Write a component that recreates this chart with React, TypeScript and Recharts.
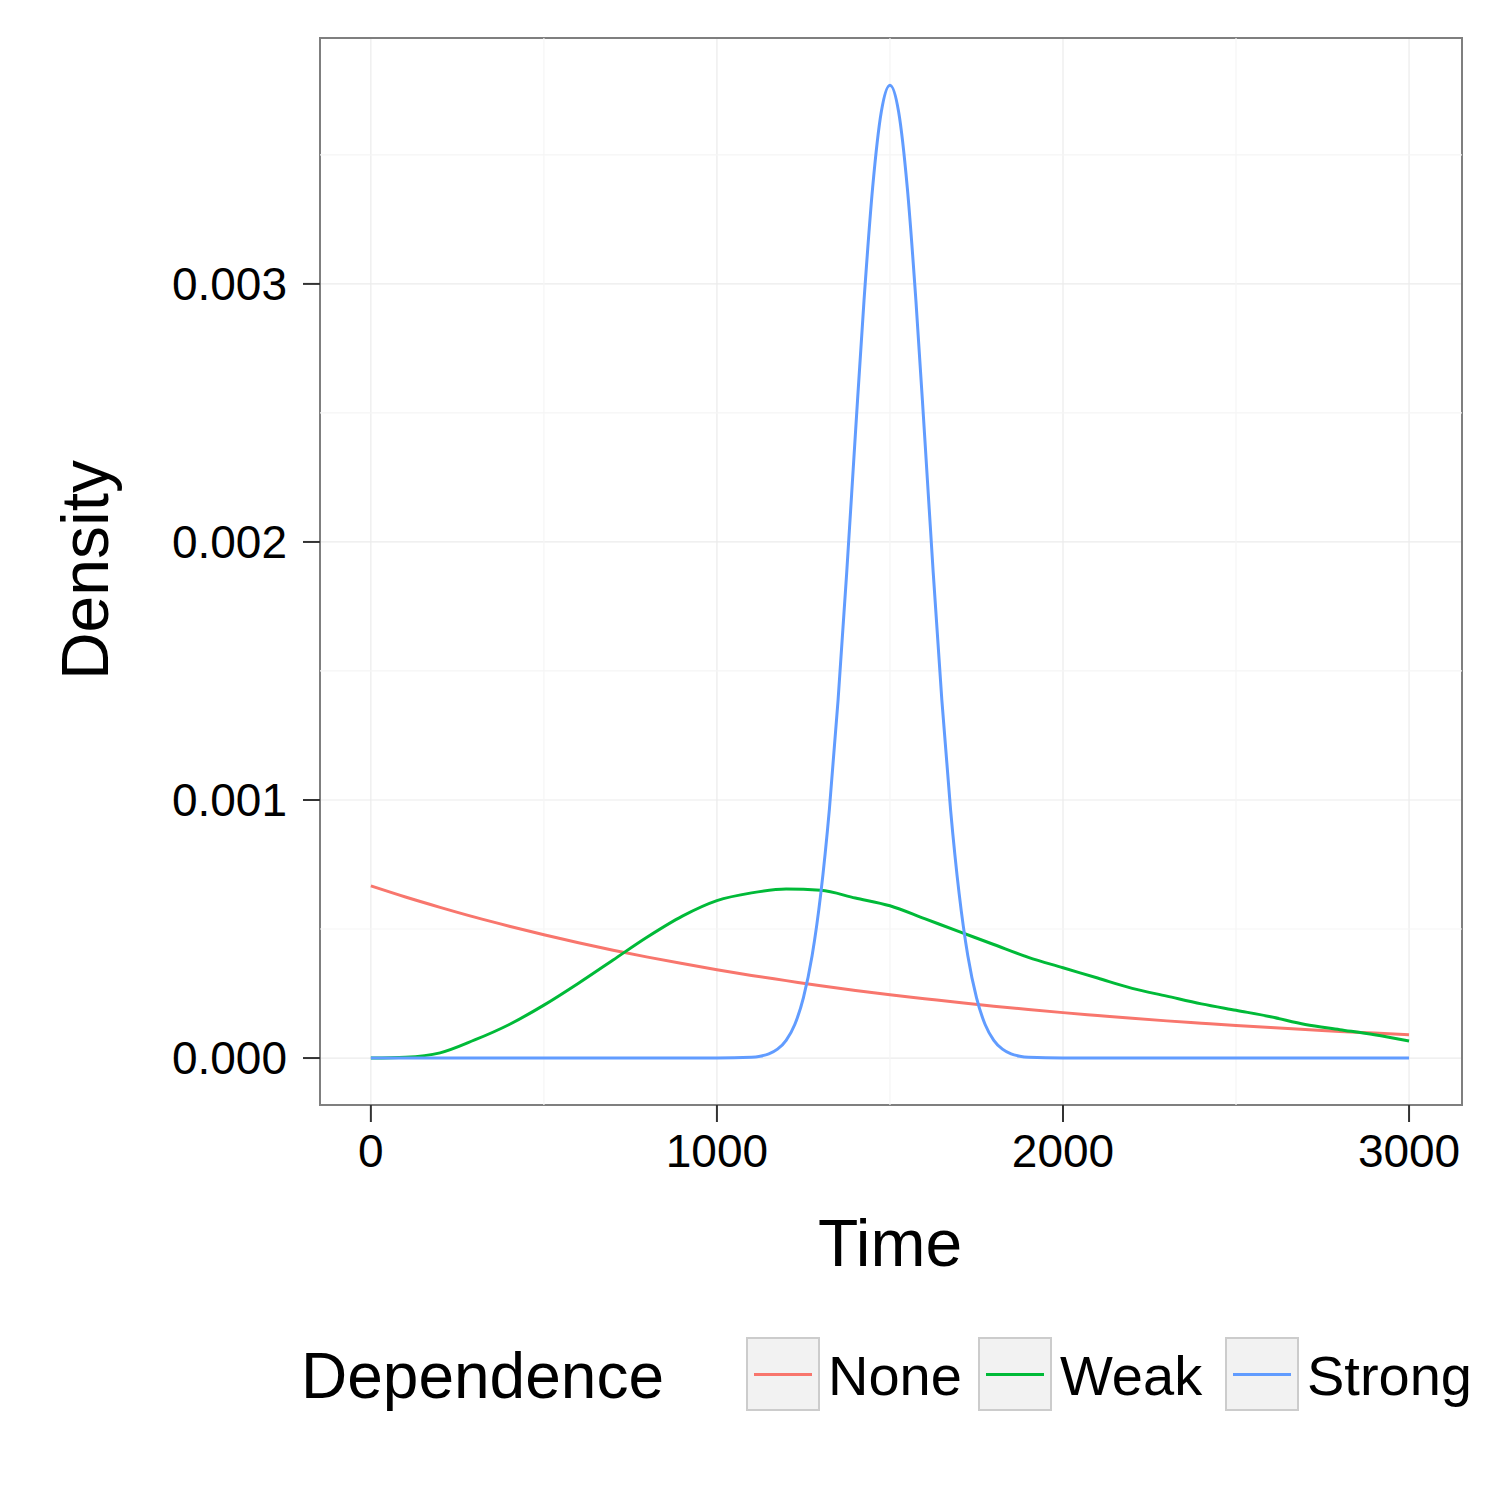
import { LineChart, Line, XAxis, YAxis, CartesianGrid, ReferenceLine, ReferenceArea } from "recharts"

const noneX = [0, 100, 200, 300, 400, 500, 600, 700, 800, 900, 1000, 1100, 1200, 1300, 1400, 1500, 1600, 1700, 1800, 1900, 2000, 2100, 2200, 2300, 2400, 2500, 2600, 2700, 2800, 2900, 3000]
const noneY = [0.000667, 0.000624, 0.000584, 0.000546, 0.000511, 0.000478, 0.000447, 0.000418, 0.000391, 0.000366, 0.000342, 0.00032, 0.0003, 0.00028, 0.000262, 0.000245, 0.00023, 0.000215, 0.000201, 0.000188, 0.000176, 0.000165, 0.000154, 0.000144, 0.000135, 0.000126, 0.000118, 0.000111, 0.000103, 0.0000966, 0.0000903]
const weakY = [0, 0.000003, 0.00002, 0.00007, 0.00013, 0.000205, 0.00029, 0.00038, 0.00047, 0.00055, 0.00061, 0.00064, 0.000655, 0.00065, 0.00062, 0.00059, 0.00054, 0.00049, 0.00044, 0.00039, 0.00035, 0.00031, 0.00027, 0.00024, 0.00021, 0.000185, 0.00016, 0.00013, 0.00011, 0.00009, 0.000066]
const strongX = [0, 1000, 1100, 1125, 1150, 1175, 1200, 1225, 1250, 1275, 1300, 1325, 1350, 1375, 1400, 1425, 1450, 1475, 1500, 1525, 1550, 1575, 1600, 1625, 1650, 1675, 1700, 1725, 1750, 1775, 1800, 1825, 1850, 1875, 1900, 2000, 3000]
const strongY = [0, 0, 0.000003, 0.0000072, 0.0000162, 0.0000343, 0.0000687, 0.00013, 0.000234, 0.000396, 0.000636, 0.000965, 0.001386, 0.001881, 0.002416, 0.002935, 0.003374, 0.003667, 0.00377, 0.003667, 0.003374, 0.002935, 0.002416, 0.001881, 0.001386, 0.000965, 0.000636, 0.000396, 0.000234, 0.00013, 0.0000687, 0.0000343, 0.0000162, 0.0000072, 0.000003, 0, 0]

const xTicks = [0, 1000, 2000, 3000]
const yTicks = [0, 0.001, 0.002, 0.003]
const xMinor = [500, 1500, 2500]
const yMinor = [0.0005, 0.0015, 0.0025, 0.0035]

const noneData = noneX.map((x, i) => ({ x, y: noneY[i] }))
const weakData = noneX.map((x, i) => ({ x, y: weakY[i] }))
const strongData = strongX.map((x, i) => ({ x, y: strongY[i] }))

const FONT = "'Liberation Sans', Arial, sans-serif"
const X_DOMAIN: [number, number] = [-147, 3153]
const Y_DOMAIN: [number, number] = [-0.000182, 0.003953]

const legendItems = [
  { name: "None", color: "#F8766D", box: 746, text: 828 },
  { name: "Weak", color: "#00BA38", box: 978, text: 1060 },
  { name: "Strong", color: "#619CFF", box: 1225, text: 1307 },
]

export default function App() {
  return (
    <div style={{ position: "absolute", left: 0, top: 0, width: 1500, height: 1500, background: "#fff", fontFamily: FONT }}>
      <LineChart width={1500} height={1500} margin={{ top: 38, right: 38, left: 0, bottom: 295 }}>
        <CartesianGrid stroke="#ebebeb" strokeWidth={1.2} horizontalValues={yTicks} verticalValues={xTicks} />
        {xMinor.map((v) => (
          <ReferenceLine key={"xm" + v} x={v} stroke="#f5f5f5" strokeWidth={1.2} />
        ))}
        {yMinor.map((v) => (
          <ReferenceLine key={"ym" + v} y={v} stroke="#f5f5f5" strokeWidth={1.2} />
        ))}
        <XAxis
          type="number"
          dataKey="x"
          domain={X_DOMAIN}
          ticks={xTicks}
          allowDataOverflow
          height={100}
          axisLine={false}
          tickLine={{ stroke: "#333", strokeWidth: 2 }}
          tickSize={17}
          tickMargin={12}
          tick={{ fontSize: 46, fill: "#000", fontFamily: FONT }}
        />
        <YAxis
          type="number"
          domain={Y_DOMAIN}
          ticks={yTicks}
          allowDataOverflow
          width={320}
          axisLine={false}
          tickLine={{ stroke: "#333", strokeWidth: 2 }}
          tickSize={17}
          tickMargin={16}
          tickFormatter={(v: number) => v.toFixed(3)}
          tick={{ fontSize: 46, fill: "#000", fontFamily: FONT }}
        />
        <ReferenceArea x1={X_DOMAIN[0]} x2={X_DOMAIN[1]} y1={Y_DOMAIN[0]} y2={Y_DOMAIN[1]} fill="none" stroke="#7f7f7f" strokeWidth={2} />
        <Line data={noneData} dataKey="y" type="monotone" stroke="#F8766D" strokeWidth={3} dot={false} isAnimationActive={false} />
        <Line data={weakData} dataKey="y" type="monotone" stroke="#00BA38" strokeWidth={3} dot={false} isAnimationActive={false} />
        <Line data={strongData} dataKey="y" type="monotone" stroke="#619CFF" strokeWidth={3} dot={false} isAnimationActive={false} />
      </LineChart>

      <div style={{ position: "absolute", left: 0, width: 1780, top: 1205, textAlign: "center", fontSize: 66 }}>Time</div>
      <div
        style={{
          position: "absolute",
          left: 85,
          top: 570,
          transform: "translate(-50%, -50%) rotate(-90deg)",
          fontSize: 66,
          whiteSpace: "nowrap",
        }}
      >
        Density
      </div>

      <div style={{ position: "absolute", left: 301, top: 1336, fontSize: 64, lineHeight: "80px" }}>Dependence</div>
      {legendItems.map((it) => (
        <div key={it.name}>
          <div
            style={{
              position: "absolute",
              left: it.box,
              top: 1337,
              width: 70,
              height: 70,
              border: "2px solid #cccccc",
              background: "#f2f2f2",
            }}
          >
            <div style={{ position: "absolute", left: 6, right: 6, top: 34, height: 3, background: it.color }} />
          </div>
          <div style={{ position: "absolute", left: it.text, top: 1340, fontSize: 56, lineHeight: "72px" }}>{it.name}</div>
        </div>
      ))}
    </div>
  )
}
